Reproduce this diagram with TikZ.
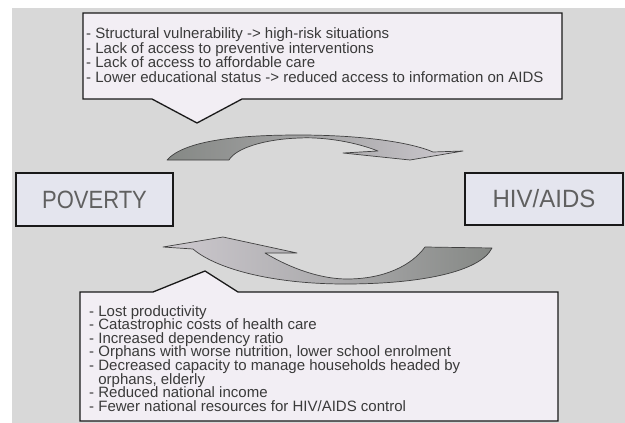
\documentclass[tikz,border=0pt]{standalone}
\usepackage{fontspec}
\setmainfont{Liberation Sans}
\definecolor{bggray}{HTML}{D8D8D8}
\definecolor{keyfill}{HTML}{E4E5EE}
\definecolor{callfill}{HTML}{F2EEF4}
\definecolor{txtgray}{HTML}{3A3A3A}
\definecolor{labgray}{HTML}{606060}
\definecolor{arrdark}{HTML}{858885}
\definecolor{arrlight}{HTML}{CDC9CF}
\newcommand{\tightlines}{\lineskiplimit=-20pt\relax\lineskip=0pt\relax}
\tikzset{
  callout/.style={draw=black!90, line width=1.3pt, fill=callfill, line join=miter},
  keybox/.style={draw=black!90, line width=1.3pt, fill=keyfill, inner sep=0pt,
    text=labgray, font=\fontsize{25}{25}\selectfont},
  listtext/.style={align=left, inner sep=0pt, text=txtgray, anchor=north west},
  cyclearrow/.style={draw=black!75, line width=0.7pt, line join=round},
}
\begin{document}
\begin{tikzpicture}[x=1pt,y=-1pt]
\useasboundingbox (0,0) rectangle (625,423);
\fill[bggray] (12,8) rectangle (625,423);

% top callout
\path[callout] (83,13) -- (562,13) -- (562,99) -- (242,99) -- (197,123) -- (152,99) -- (83,99) -- cycle;
\node[listtext, font=\fontsize{15}{14.6}\selectfont\tightlines] (causes) at (86,27.5) {%
- Structural vulnerability -> high-risk situations\\
- Lack of access to preventive interventions\\
- Lack of access to affordable care\\
- Lower educational status -> reduced access to information on AIDS};

% bottom callout
\path[callout] (80,292) -- (153,292) -- (205,271) -- (238,292) -- (558,292) -- (558,421) -- (80,421) -- cycle;
\node[listtext, font=\fontsize{15}{13.6}\selectfont\tightlines] (effects) at (89,305) {%
- Lost productivity\\
- Catastrophic costs of health care\\
- Increased dependency ratio\\
- Orphans with worse nutrition, lower school enrolment\\
- Decreased capacity to manage households headed by\\
\phantom{- }orphans, elderly\\
- Reduced national income\\
- Fewer national resources for HIV/AIDS control};

% key boxes
\node[keybox, minimum width=157pt, minimum height=53pt] (poverty) at (94.5,199.5) {\scalebox{0.88}[1]{POVERTY}};
\node[keybox, minimum width=158pt, minimum height=52pt] (hiv) at (544,199) {\scalebox{0.96}[1]{HIV/AIDS}};

% top curved arrow (poverty -> HIV/AIDS)
\path[cyclearrow, left color=arrdark, right color=arrlight, middle color=arrdark!55!arrlight]
  (167,160) .. controls (185,140) and (240,135) .. (299,135)
  .. controls (360,135) and (410,142) .. (433,152)
  -- (463,151) -- (410,160) -- (343,153) -- (378,151)
  .. controls (350,140) and (318,137) .. (300,138)
  .. controls (265,139) and (236,148) .. (229,160) -- cycle;

% bottom curved arrow (HIV/AIDS -> poverty)
\path[cyclearrow, left color=arrlight, right color=arrdark, middle color=arrlight!55!arrdark]
  (163,247) -- (223,237) -- (297,253) -- (265,253)
  .. controls (290,268) and (320,279) .. (347,279)
  .. controls (385,279) and (412,265) .. (425,247)
  -- (492,248)
  .. controls (480,272) and (420,284) .. (345,284)
  .. controls (270,284) and (215,268) .. (193,249) -- cycle;
\end{tikzpicture}
\end{document}
